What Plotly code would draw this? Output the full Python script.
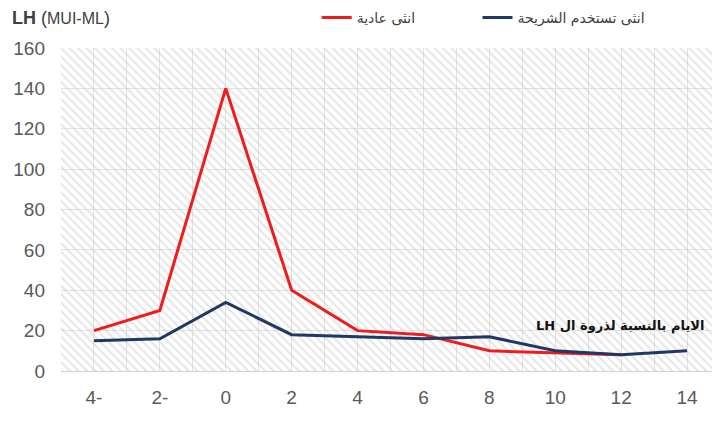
import plotly.graph_objects as go

days = [-4, -2, 0, 2, 4, 6, 8, 10, 12, 14]
day_labels = ["4-", "2-", "0", "2", "4", "6", "8", "10", "12", "14"]
normal_female = [20, 30, 140, 40, 20, 18, 10, 9, 8, None]
implant_female = [15, 16, 34, 18, 17, 16, 17, 10, 8, 10]
name_normal = "انثى عادية"
name_implant = "انثى تستخدم الشريحة"
y_ticks = [0, 20, 40, 60, 80, 100, 120, 140, 160]

x_range = [-5, 15]
y_range = [0, 160]

fig = go.Figure()

# hatched plot-area background
fig.add_trace(go.Scatter(
    x=[x_range[0], x_range[1], x_range[1], x_range[0], x_range[0]],
    y=[y_range[0], y_range[0], y_range[1], y_range[1], y_range[0]],
    fill="toself", mode="none", fillcolor="rgba(0,0,0,0)",
    fillpattern=dict(shape="\\", fgcolor="#cccccc", bgcolor="rgba(0,0,0,0)",
                     size=6, solidity=0.35),
    showlegend=False, hoverinfo="skip"))

fig.add_trace(go.Scatter(x=days, y=normal_female, mode="lines", name=name_normal,
                         line=dict(color="#ee1c1c", width=3), legend="legend"))
fig.add_trace(go.Scatter(x=days, y=implant_female, mode="lines", name=name_implant,
                         line=dict(color="#1f3864", width=3), legend="legend2"))

tick_font = dict(family="Liberation Sans, Arial", size=19, color="#595959")

fig.update_xaxes(range=x_range, tickmode="array", tickvals=days, ticktext=day_labels,
                 showgrid=True, gridcolor="#e2e2e2", gridwidth=1,
                 minor=dict(dtick=1, tick0=0, showgrid=True, gridcolor="#e2e2e2", gridwidth=1),
                 showline=True, linecolor="#d0d0d0", linewidth=1, zeroline=False,
                 tickfont=tick_font, ticklabelstandoff=9, fixedrange=True)
fig.update_yaxes(range=y_range, tickvals=y_ticks, showgrid=True, gridcolor="#e2e2e2",
                 zeroline=False, showline=False, tickfont=tick_font,
                 ticklabelstandoff=15, fixedrange=True)

fig.add_annotation(xref="paper", yref="paper", x=-0.0774, y=1.093, xanchor="left",
                   yanchor="middle", showarrow=False,
                   text="<b>LH</b> (<span style='font-size:16px'>MUI-ML</span>)",
                   font=dict(family="Liberation Sans, Arial", size=18, color="#404040"))
fig.add_annotation(x=15, y=22.5, xref="x", yref="y", xanchor="right", yanchor="middle",
                   showarrow=False, xshift=-14,
                   text="<b>LH الايام بالنسبة لذروة ال</b>",
                   font=dict(family="DejaVu Sans, Liberation Sans", size=13, color="#111111"))

legend_font = dict(family="DejaVu Sans, Noto Sans", size=14, color="#404040")
fig.update_layout(
    width=712, height=413,
    margin=dict(l=53, r=0, t=40, b=50, autoexpand=False),
    paper_bgcolor="white", plot_bgcolor="white",
    showlegend=True,
    legend=dict(orientation="h", x=0.388, y=1.093, xanchor="left", yanchor="middle",
                font=legend_font, bgcolor="rgba(0,0,0,0)"),
    legend2=dict(orientation="h", x=0.632, y=1.093, xanchor="left", yanchor="middle",
                 font=legend_font, bgcolor="rgba(0,0,0,0)"),
)

fig.write_html("out.html")
